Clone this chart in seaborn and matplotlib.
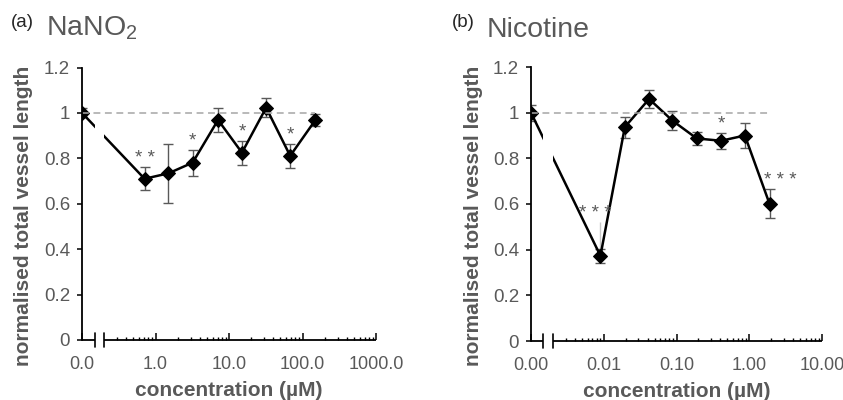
import numpy as np
import pandas as pd
import matplotlib
matplotlib.use("Agg")
import matplotlib.pyplot as plt
from matplotlib.ticker import FixedLocator, FixedFormatter, FuncFormatter
import seaborn as sns

# ---- NaNO2 dose response ----
nano2_conc = [0, 0.71, 1.5, 3.2, 7.1, 15, 32, 68, 150]
nano2_mean = [1.00, 0.71, 0.734, 0.781, 0.969, 0.825, 1.023, 0.811, 0.969]
nano2_sem = [0.02, 0.051, 0.13, 0.057, 0.054, 0.053, 0.042, 0.054, 0.028]
nano2_stars = ["", "* *", "", "*", "", "*", "", "*", ""]
nano2_ticks = [0, 1, 10, 100, 1000]
nano2_ticklabels = ["0.0", "1.0", "10.0", "100.0", "1000.0"]

# ---- Nicotine dose response ----
nic_conc = [0, 0.009, 0.0195, 0.042, 0.088, 0.19, 0.41, 0.87, 1.9]
nic_mean = [1.00, 0.373, 0.937, 1.06, 0.965, 0.887, 0.877, 0.90, 0.601]
nic_sem = [0.035, 0.03, 0.046, 0.04, 0.042, 0.03, 0.035, 0.053, 0.063]
nic_stars = ["", "* * *", "", "", "", "", "*", "", "* * *"]
nic_ticks = [0, 0.01, 0.1, 1, 10]
nic_ticklabels = ["0.00", "0.01", "0.10", "1.00", "10.00"]
nic_faint_upper = 0.52   # faint upper whisker at the 0.01 µM point

y_ticks = [0, 0.2, 0.4, 0.6, 0.8, 1.0, 1.2]

sns.set_theme(style="white")
plt.rcParams["font.family"] = ["Liberation Sans", "DejaVu Sans"]
plt.rcParams["mathtext.fontset"] = "custom"
plt.rcParams["mathtext.rm"] = "Liberation Sans"
plt.rcParams["mathtext.it"] = "Liberation Sans:italic"
plt.rcParams["mathtext.bf"] = "Liberation Sans:bold"

GREY = "#595959"


def broken_log(x_join, p_zero):
    """Linear stretch from 0 up to x_join, log10 above it."""
    l_join = np.log10(x_join)

    def fwd(x):
        x = np.asarray(x, dtype=float)
        with np.errstate(divide="ignore", invalid="ignore"):
            logx = np.log10(np.where(x > 0, x, x_join))
        lin = p_zero + (l_join - p_zero) * x / x_join
        return np.where(x < x_join, lin, logx)

    def inv(p):
        p = np.asarray(p, dtype=float)
        lin = (p - p_zero) / (l_join - p_zero) * x_join
        with np.errstate(over="ignore"):
            return np.where(p < l_join, lin, 10.0 ** p)

    return fwd, inv


def minor_ticks(first_decade, last_decade):
    out = []
    for d in range(first_decade, last_decade):
        for k in range(2, 10):
            out.append(k * 10.0 ** d)
    return out


def panel(ax, conc, mean, sem, stars, ticks, ticklabels, x_join, p_zero,
          brk, star_dx, faint=None):
    fwd, inv = broken_log(x_join, p_zero)
    ax.set_xscale("function", functions=(fwd, inv))

    df = pd.DataFrame({"conc": conc, "mean": mean, "sem": sem})
    ax.errorbar(df["conc"], df["mean"], yerr=df["sem"], fmt="none",
                ecolor=GREY, elinewidth=1.0, capsize=3.6, capthick=1.0,
                zorder=1.9)
    if faint is not None:
        ax.vlines(conc[1], mean[1], faint, color="#C8C8C8", lw=1.0,
                  zorder=1.8)
    sns.lineplot(data=df, x="conc", y="mean", ax=ax, color="black",
                 marker="D", markersize=7.5, markeredgecolor="black",
                 linewidth=1.8, errorbar=None, sort=False, zorder=2)

    # gap in the connecting line across the axis break
    ax.axvspan(brk[0], brk[1], color="white", lw=0, zorder=2.2)
    ax.plot([0, conc[-1]], [1, 1], color="#A6A6A6", lw=1.1,
            ls=(0, (4.5, 3)), zorder=2.4)

    # significance marks
    for i, s in enumerate(stars):
        if not s:
            continue
        top = mean[i] + sem[i]
        if faint is not None and i == 1:
            top = max(top, faint)
        ax.annotate(s, (conc[i], top), xytext=(star_dx[i], 3),
                    textcoords="offset points", ha="center", va="baseline",
                    fontsize=13.5, color=GREY)

    ax.set_xlim(0, ticks[-1])
    ax.set_ylim(0, 1.2)

    # axes frame with break
    for side in ("top", "right", "bottom"):
        ax.spines[side].set_visible(False)
    ax.spines["left"].set_color("black")
    ax.spines["left"].set_linewidth(1.3)
    ax.plot([0, brk[0]], [0, 0], color="black", lw=1.3, clip_on=False,
            solid_capstyle="butt", zorder=3)
    ax.plot([brk[1], ticks[-1]], [0, 0], color="black", lw=1.3,
            clip_on=False, solid_capstyle="butt", zorder=3)
    for b in brk:
        ax.plot([b, b], [-0.03, 0.03], color="black", lw=1.2,
                clip_on=False, zorder=3)

    ax.xaxis.set_major_locator(FixedLocator(ticks))
    ax.xaxis.set_major_formatter(FixedFormatter(ticklabels))
    first = int(round(np.log10(ticks[1]))) - 1
    last = int(round(np.log10(ticks[-1])))
    ax.xaxis.set_minor_locator(FixedLocator(
        [m for m in minor_ticks(first, last) if m > x_join * 1.01]))
    ax.tick_params(axis="x", which="major", direction="in", length=5,
                   width=1.1, color="black", pad=11.5, labelsize=13,
                   labelcolor=GREY, bottom=True)
    ax.tick_params(axis="x", which="minor", direction="in", length=2.5,
                   width=1.0, color="black", bottom=True)
    ax.yaxis.set_major_locator(FixedLocator(y_ticks))
    ax.yaxis.set_major_formatter(FuncFormatter(lambda v, _: f"{v:g}"))
    ax.tick_params(axis="y", direction="out", length=3.6, width=1.1,
                   color="black", pad=5, labelsize=13.5, labelcolor=GREY,
                   left=True)

    ax.set_xlabel("concentration (µM)", fontsize=15, fontweight="bold",
                  color=GREY, labelpad=5.5)
    ax.set_ylabel("normalised total vessel length", fontsize=15,
                  fontweight="bold", color=GREY)
    ax.yaxis.set_label_coords(-0.165, 0.455)
    ax.set_facecolor("white")


fig = plt.figure(figsize=(8.43, 4.0), dpi=100)
ax_a = fig.add_axes([82 / 843, 60 / 400, 294 / 843, 272.5 / 400])
ax_b = fig.add_axes([531 / 843, 59 / 400, 291 / 843, 274 / 400])

panel(ax_a, nano2_conc, nano2_mean, nano2_sem, nano2_stars, nano2_ticks,
      nano2_ticklabels, x_join=0.2, p_zero=-1.0, brk=(0.12, 0.2),
      star_dx=[0] * 9)
panel(ax_b, nic_conc, nic_mean, nic_sem, nic_stars, nic_ticks,
      nic_ticklabels, x_join=0.002, p_zero=-3.0, brk=(0.0011, 0.002),
      star_dx=[0, -4, 0, 0, 0, 0, 0, 0, 8], faint=nic_faint_upper)

fig.text(11 / 843, 1 - 27 / 400, "(a)", fontsize=13.5, color="#262626",
         va="baseline")
fig.text(46 / 843, 1 - 35.7 / 400, "NaNO$_2$", fontsize=20.5, color=GREY,
         va="baseline")
fig.text(452 / 843, 1 - 27 / 400, "(b)", fontsize=13.5, color="#262626",
         va="baseline")
fig.text(487 / 843, 1 - 37 / 400, "Nicotine", fontsize=20.5, color=GREY,
         va="baseline")

fig.savefig("out.png", dpi=100, facecolor="white")
